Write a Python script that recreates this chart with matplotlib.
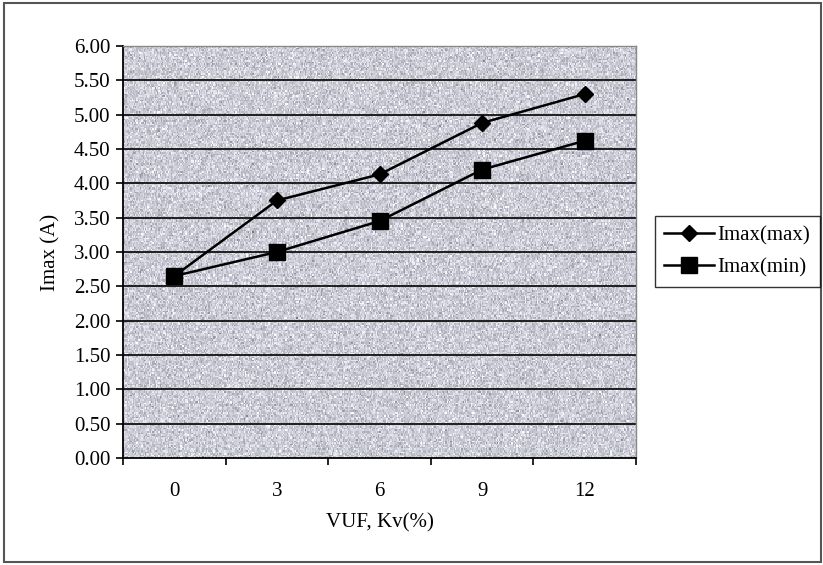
import numpy as np
import matplotlib
matplotlib.use("Agg")
import matplotlib.pyplot as plt
from matplotlib.patches import Rectangle

plt.rcParams['font.family'] = ['Liberation Serif', 'DejaVu Serif']

categories = ["0", "3", "6", "9", "12"]
imax_max = [2.65, 3.75, 4.13, 4.88, 5.30]
imax_min = [2.65, 3.00, 3.45, 4.20, 4.62]
y_ticks = [0.0, 0.5, 1.0, 1.5, 2.0, 2.5, 3.0, 3.5, 4.0, 4.5, 5.0, 5.5, 6.0]

FS = 15

fig = plt.figure(figsize=(8.23, 5.65), dpi=100)
fig.patch.set_facecolor('white')
fig.add_artist(Rectangle((0.005, 0.006), 0.992, 0.988, transform=fig.transFigure,
                         fill=False, edgecolor='#555555', lw=1.5))

ax = fig.add_axes([0.1495, 0.1894, 0.6233, 0.7292])

# speckled grey plot-area fill
rng = np.random.default_rng(3)
tex = rng.normal(0.0, 1.0, (260, 420))
base = np.array([0.80, 0.80, 0.84])
img = np.clip(base[None, None, :] + 0.08 * tex[..., None], 0, 1)
ax.imshow(img, extent=(-0.5, 4.5, 0, 6), aspect='auto', zorder=0,
          interpolation='nearest')

x = np.arange(len(categories))
ax.set_xlim(-0.5, 4.5)
ax.set_ylim(0, 6)

for yv in y_ticks[1:]:
    ax.axhline(yv, color='#111111', lw=1.3, zorder=1)

ax.plot(x, imax_max, color='black', lw=1.8, marker='D', markersize=8,
        label='Imax(max)', zorder=3)
ax.plot(x, imax_min, color='black', lw=1.8, marker='s', markersize=11,
        label='Imax(min)', zorder=3)

ax.set_yticks(y_ticks)
ax.set_yticklabels([f"{v:.2f}" for v in y_ticks], fontsize=FS)
ax.set_xticks(x)
ax.set_xticklabels(categories, fontsize=FS)
ax.set_xticks(np.arange(-0.5, 5.0, 1.0), minor=True)
ax.tick_params(axis='x', which='major', length=0, pad=17)
ax.tick_params(axis='x', which='minor', length=5, width=1.2, direction='out')
ax.tick_params(axis='y', which='major', length=5, width=1.2, direction='out', pad=4)

for side in ['left', 'bottom']:
    ax.spines[side].set_color('black')
    ax.spines[side].set_linewidth(1.3)
for side in ['top', 'right']:
    ax.spines[side].set_color('#888888')
    ax.spines[side].set_linewidth(1.0)

ax.set_xlabel("VUF, Kv(%)", fontsize=FS, labelpad=9)
ax.set_ylabel("Imax (A)", fontsize=FS, labelpad=10)

leg = fig.legend(loc='center left', bbox_to_anchor=(0.796, 0.555), fontsize=FS,
                 frameon=True, fancybox=False, edgecolor='black',
                 handlelength=2.4, borderpad=0.45, labelspacing=0.6,
                 handletextpad=0.15, borderaxespad=0.0)
leg.get_frame().set_linewidth(1.0)

fig.savefig("out.png", dpi=100)
